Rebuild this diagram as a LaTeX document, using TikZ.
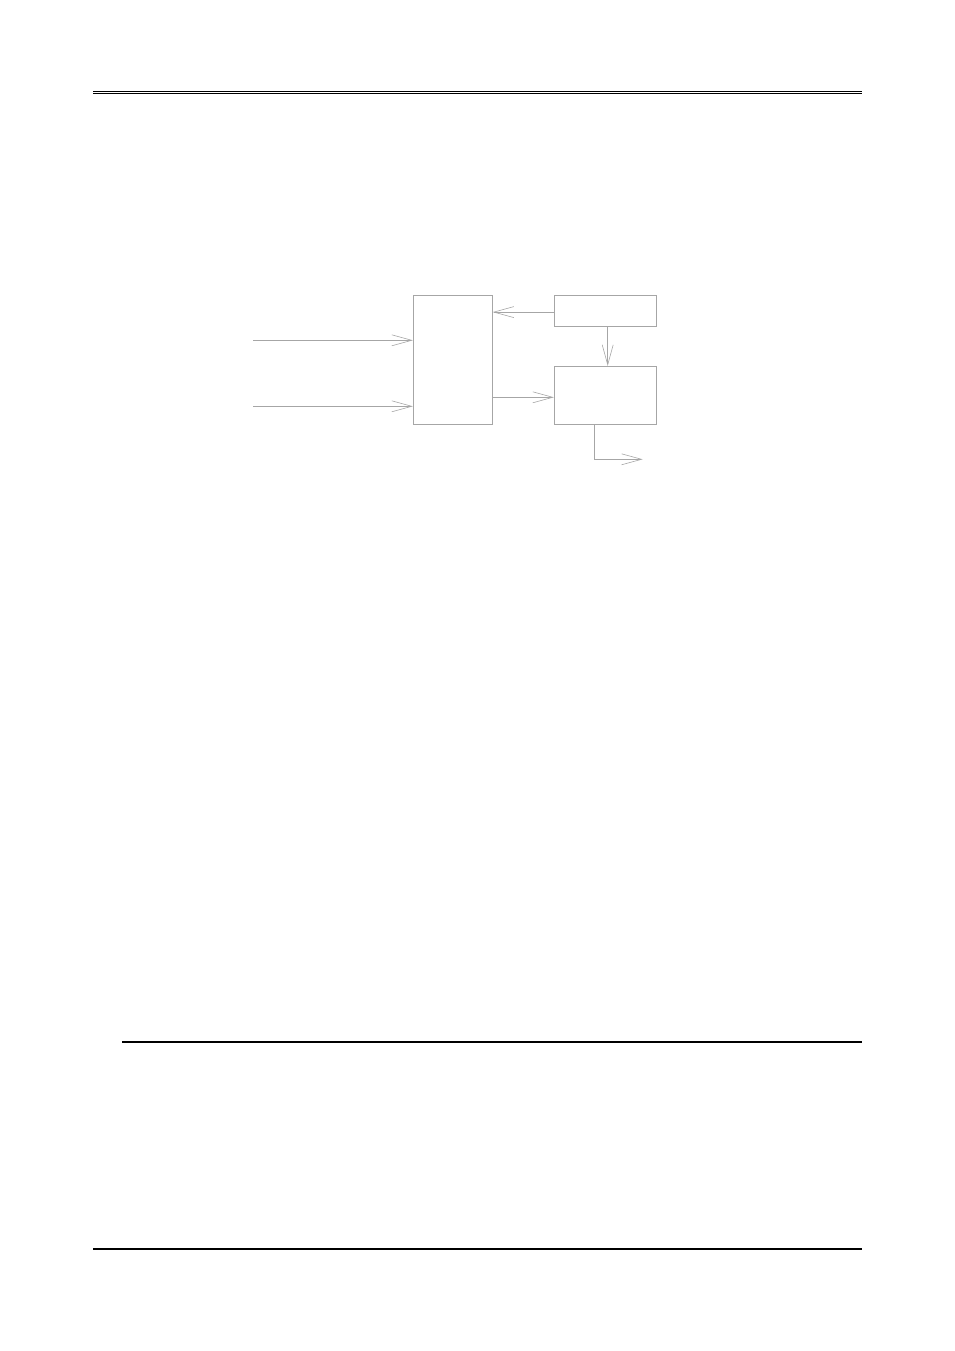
\documentclass[tikz,border=0pt]{standalone}
\usetikzlibrary{arrows.meta}
\begin{document}
\begin{tikzpicture}[x=1pt,y=-1pt,
  blk/.style={draw=gray!70,line width=0.8pt,inner sep=0pt},
  sig/.style={draw=gray!70,line width=0.8pt,-{Straight Barb[length=20pt,width=11pt,line width=0.6pt]}},
  rule/.style={line width=#1}]
\useasboundingbox (0,0) rectangle (954,1351);

% page rules
\draw[rule=0.9pt] (93,91.7) -- (862,91.7);
\draw[rule=0.9pt] (93,93.7) -- (862,93.7);
\draw[rule=1.7pt] (122,1042) -- (862,1042);
\draw[rule=2pt] (93,1248.7) -- (862,1248.7);

% blocks
\node[blk,minimum width=79pt,minimum height=129pt] (mix) at (452.8,359.8) {};
\node[blk,minimum width=102pt,minimum height=30.7pt] (ctl) at (605.3,310.7) {};
\node[blk,minimum width=102pt,minimum height=58pt] (gen) at (605.3,395.3) {};

\coordinate (inA) at (253.3,340.3);
\coordinate (inB) at (253.3,406.3);
\coordinate (out) at (642.7,459.3);

% connectors
\draw[sig] (inA) -- (inA -| mix.west);
\draw[sig] (inB) -- (inB -| mix.west);
\draw[sig] ([yshift=-1.4pt]ctl.west) -- ([yshift=-1.4pt]ctl.west -| mix.east);
\draw[sig] ([yshift=-2pt]gen.west -| mix.east) -- ([yshift=-2pt]gen.west);
\draw[sig] ([xshift=2.4pt]ctl.south) -- ([xshift=2.4pt]gen.north);
\draw[sig] ([xshift=-11pt]gen.south) |- (out);
\end{tikzpicture}
\end{document}
